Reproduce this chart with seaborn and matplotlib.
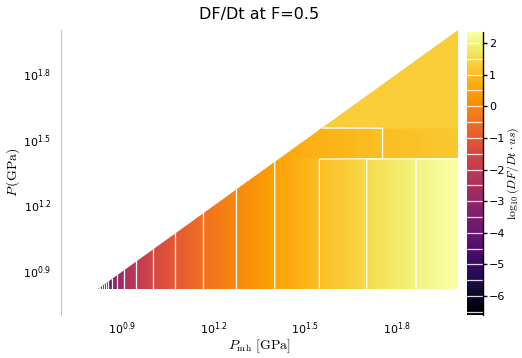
import numpy as np
import matplotlib
matplotlib.use("Agg")
import matplotlib.pyplot as plt
import seaborn as sns
from matplotlib.patches import Polygon
from matplotlib.colors import Normalize
from matplotlib.cm import ScalarMappable

sns.set_style("white")
plt.rcParams['font.family'] = ['DejaVu Sans']
plt.rcParams['mathtext.fontset'] = 'dejavusans'
plt.rcParams['text.color'] = 'black'
plt.rcParams['axes.labelcolor'] = 'black'
plt.rcParams['xtick.color'] = 'black'
plt.rcParams['ytick.color'] = 'black'

nan = np.nan

# log10(P_mh / GPa) where the contour lines cross
log_pmh = [0.82, 0.824, 0.828, 0.833, 0.840, 0.846, 0.854, 0.866, 0.882,
           0.907, 0.947, 1.001, 1.073, 1.165, 1.274, 1.400, 1.546, 1.701,
           1.753, 1.863, 2.0]

# log10(DF/Dt * us) in the three pressure bands
dfdt_low = [-6.6, -6.5, -6.0, -5.5, -5.0, -4.5, -4.0, -3.5, -3.0,
            -2.5, -2.0, -1.5, -1.0, -0.5, 0.0, 0.5, 1.0, 1.5,
            1.67, 2.0, 2.35]
dfdt_mid = [nan, nan, nan, nan, nan, nan, nan, nan, nan,
            nan, nan, nan, nan, nan, nan, 0.55, 0.8, 0.95,
            1.0, 1.08, 1.18]
dfdt_top = [nan, nan, nan, nan, nan, nan, nan, nan, nan,
            nan, nan, nan, nan, nan, nan, nan, 1.3, 1.3,
            1.3, 1.3, 1.3]

# log10(P / GPa) band edges
log_p_edges = [0.82, 1.411, 1.413, 1.552, 1.554, 2.0]

levels = np.arange(-6.5, 2.01, 0.5)
vmin, vmax = -6.6, 2.35

xticks = [0.9, 1.2, 1.5, 1.8]
yticks = [0.9, 1.2, 1.5, 1.8]

X, Y = np.meshgrid(10 ** np.array(log_pmh), 10 ** np.array(log_p_edges))
Z = np.ma.masked_invalid(np.vstack([dfdt_low, dfdt_low, dfdt_mid,
                                    dfdt_mid, dfdt_top, dfdt_top]))

cmap = sns.color_palette("inferno", as_cmap=True)

fig = plt.figure(figsize=(5.22, 3.58), dpi=100)
ax = fig.add_axes([61 / 522, 43 / 358, 397 / 522, 285 / 358])
cax = fig.add_axes([467 / 522, 43 / 358, 16 / 522, 283 / 358])

ax.set_xscale('log')
ax.set_yscale('log')

cs = ax.contourf(X, Y, Z, levels=np.linspace(vmin, vmax, 300),
                 cmap=cmap, vmin=vmin, vmax=vmax, extend='both')
cl = ax.contour(X, Y, Z, levels=levels, colors='white', linewidths=0.9,
                linestyles='solid')

# only the P <= P_mh half is filled
lo = 10 ** log_pmh[0]
tri = Polygon([(lo, lo), (100, lo), (100, 100)], closed=True,
              transform=ax.transData, facecolor='none', edgecolor='none')
ax.add_patch(tri)
cs.set_clip_path(tri)
cl.set_clip_path(tri)

ax.set_xlim(10 ** 0.7, 100)
ax.set_ylim(10 ** 0.7, 100)
ax.set_xticks([10 ** t for t in xticks], [rf'$10^{{{t}}}$' for t in xticks])
ax.set_yticks([10 ** t for t in yticks], [rf'$10^{{{t}}}$' for t in yticks])
ax.minorticks_off()
ax.tick_params(axis='x', length=0, labelsize=8, pad=4)
ax.tick_params(axis='y', length=0, labelsize=8, pad=7)

sns.despine(ax=ax, bottom=True)
ax.spines['left'].set_color('#c8c8c8')
ax.spines['left'].set_linewidth(0.8)

ax.set_title('DF/Dt at F=0.5', fontsize=11.5, pad=8)
ax.set_xlabel(r'$P_{\rm mh}\ [\rm GPa]$', math_fontfamily='cm',
              fontsize=10, labelpad=0)
ax.set_ylabel(r'$P\,(\rm GPa)$', math_fontfamily='cm', fontsize=10,
              labelpad=1)

sm = ScalarMappable(norm=Normalize(vmin, vmax), cmap=cmap)
cb = fig.colorbar(sm, cax=cax)
cb.outline.set_visible(False)
cb.set_ticks(np.arange(-6, 3, 1))
for lv in levels:
    cax.axhline(lv, color='white', lw=0.9, alpha=0.85)
cax.plot([1, 1], [vmin, vmax], color='black', lw=1, clip_on=False)
cax.tick_params(length=3, width=1, color='black', labelsize=8, pad=1.5)
cb.set_label(r'$\log_{10}(DF/Dt\cdot us)$', math_fontfamily='cm',
             fontsize=8.5, labelpad=0)

fig.savefig("out.png", dpi=100)
